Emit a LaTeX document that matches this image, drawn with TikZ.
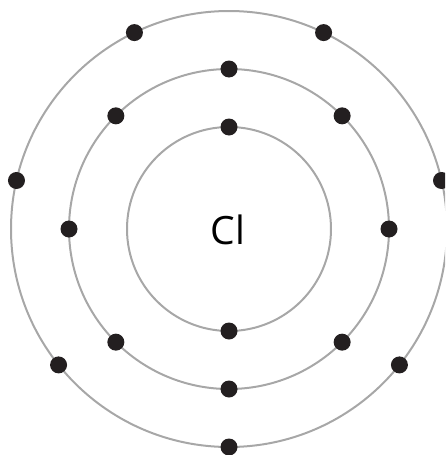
\documentclass[tikz,border=0pt]{standalone}
\usepackage{fontspec}
\setmainfont{Open Sans}
\usetikzlibrary{calc}
\definecolor{shell}{HTML}{A7A7A7}
\definecolor{electron}{HTML}{231F20}
\begin{document}
\begin{tikzpicture}[x=1pt,y=-1pt,
  shellring/.style={draw=shell,line width=2pt},
  electron/.style={circle,fill=electron,inner sep=0pt,minimum size=17pt}]
\clip (0,0) rectangle (445,455);
\useasboundingbox (0,0) rectangle (445,455);
\coordinate (c) at (229,229);
\draw[shellring] (c) circle[radius=102];
\draw[shellring] (c) circle[radius=160];
\draw[shellring] (c) circle[radius=218];
\node[font=\fontsize{39}{39}\selectfont] (cl) at (228,230) {Cl};
% inner shell (y axis points down, so angle 90 is at the bottom)
\foreach \a [count=\i] in {-90,90}
  \node[electron] (i\i) at ($(c)+(\a:102)$) {};
% middle shell
\foreach \a [count=\i] in {-90,-45,0,45,90,135,180,225}
  \node[electron] (m\i) at ($(c)+(\a:160)$) {};
% outer shell
\foreach \a [count=\i] in {90,38.571,-12.857,-64.286,-115.714,-167.143,-218.571}
  \node[electron] (o\i) at ($(c)+(\a:218)$) {};
\end{tikzpicture}
\end{document}
